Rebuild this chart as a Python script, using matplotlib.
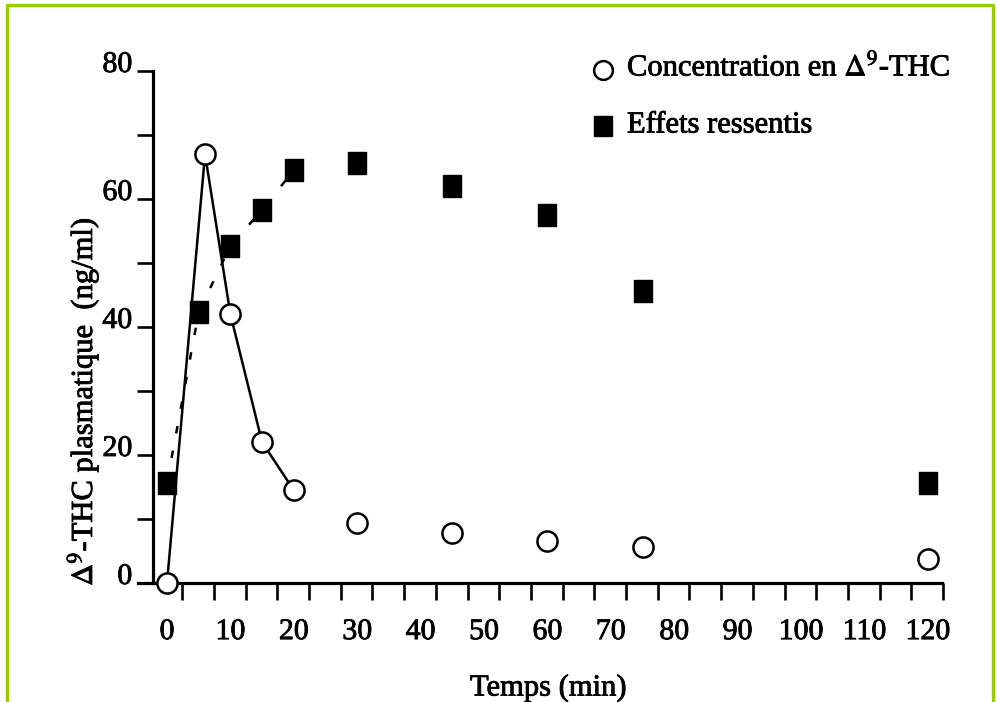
import matplotlib
matplotlib.use('Agg')
import matplotlib.pyplot as plt
import numpy as np
from matplotlib.path import Path
from matplotlib.lines import Line2D
import matplotlib.transforms as mtrans
import matplotlib.patheffects as pe

plt.rcParams['font.family'] = ['Liberation Serif', 'DejaVu Serif']
plt.rcParams['mathtext.fontset'] = 'stix'

# ---------------- data ----------------
time_conc = [0, 6, 10, 15, 20, 30, 45, 60, 75, 120]
conc = [0, 67, 42, 22, 14.5, 9.3, 7.8, 6.6, 5.6, 3.7]
time_eff = [0, 5, 10, 15, 20, 30, 45, 60, 75, 120]
effects = [15.7, 42.3, 52.7, 58.3, 64.5, 65.6, 62.0, 57.5, 45.6, 15.6]
n_joined = 5  # the first points of each series are joined
xtick_values = list(range(0, 121, 10))
ytick_values = [0, 20, 40, 60, 80]
yminor_values = [10, 30, 50, 70]
legend_labels = [r'Concentration en $\Delta^{9}$-THC', 'Effets ressentis']
ylabel = r'$\Delta^{9}$-THC plasmatique  (ng/ml)'
xlabel = 'Temps (min)'

# ---------------- figure ----------------
W, H = 998, 702
fig = plt.figure(figsize=(W / 100, H / 100), dpi=100)
thick = [pe.withStroke(linewidth=0.6, foreground='black')]


def fx(px):
    return px / W


def fy(py):
    return 1 - py / H


x0_px, xscale = 167.0, 6.34
xmin, xmax = -4.6, 125
ax_left = x0_px + xmin * xscale
ax_right = x0_px + xmax * xscale
ax = fig.add_axes([fx(ax_left), fy(583), (ax_right - ax_left) / W, (583 - 71) / H])
ax.set_xlim(xmin, xmax)
ax.set_ylim(0, 80)
ax.patch.set_alpha(0)

for s in ['top', 'right']:
    ax.spines[s].set_visible(False)
ax.spines['left'].set_position(('data', -2.2))
ax.spines['left'].set_bounds(0, 80)
ax.spines['bottom'].set_bounds(-4.6, 122.2)
ax.spines['left'].set_linewidth(2.3)
ax.spines['bottom'].set_linewidth(2.3)

ax.set_yticks(ytick_values)
ax.set_yticks(yminor_values, minor=True)
ax.set_yticklabels([str(v) for v in ytick_values])
ax.tick_params(axis='y', which='both', direction='out', length=11.5, width=1.9,
               labelsize=21.5, pad=3.5)
ax.set_xticks(xtick_values)
ax.set_xticklabels([str(v) for v in xtick_values])
ax.tick_params(axis='x', which='major', length=0, pad=26, labelsize=21.5)
ax.set_xticks(np.arange(2.4, 123, 5), minor=True)
ax.tick_params(axis='x', which='minor', direction='out', length=12, width=1.9)

offset = mtrans.ScaledTranslation(0, 9 / 100, fig.dpi_scale_trans)
for lab in ax.get_yticklabels():
    lab.set_transform(lab.get_transform() + offset)
    lab.set_path_effects(thick)
for lab in ax.get_xticklabels():
    lab.set_path_effects(thick)

# rectangle marker (slightly taller than wide)
sq = Path([(-0.41, -0.5), (0.41, -0.5), (0.41, 0.5), (-0.41, 0.5), (-0.41, -0.5)],
          [Path.MOVETO, Path.LINETO, Path.LINETO, Path.LINETO, Path.CLOSEPOLY])

ax.plot(time_conc[:n_joined], conc[:n_joined], color='black', lw=1.8, zorder=3,
        clip_on=False)
ax.plot(time_eff[:n_joined], effects[:n_joined], color='black', lw=1.8,
        ls=(0, (3, 7)), zorder=2, clip_on=False)
ax.plot(time_eff, effects, ls='none', marker=sq, ms=16.5, color='black', zorder=4,
        clip_on=False)
ax.plot(time_conc, conc, ls='none', marker='o', ms=14.5, mfc='white', mec='black',
        mew=1.8, zorder=5, clip_on=False)

# legend (drawn in figure pixel positions)
fig.add_artist(Line2D([fx(603)], [fy(70)], marker='o', ms=13.5, mfc='white', mec='black',
                      mew=1.8, ls='none', transform=fig.transFigure))
fig.add_artist(Line2D([fx(603)], [fy(126)], marker=sq, ms=15, color='black',
                      ls='none', transform=fig.transFigure))
fig.text(fx(627), fy(68), legend_labels[0], ha='left', va='center', size=22,
         path_effects=thick)
fig.text(fx(627), fy(125), legend_labels[1], ha='left', va='center', size=22,
         path_effects=thick)

# axis titles
fig.text(fx(83), fy(402), ylabel, rotation=90, ha='center', va='center', size=22,
         path_effects=thick)
fig.text(fx(548), fy(688), xlabel, ha='center', va='center', size=22,
         path_effects=thick)

# green frame
fig.add_artist(Line2D([fx(7), fx(7), fx(993), fx(993)], [fy(720), fy(5), fy(5), fy(720)],
                      color='#99cc00', lw=2.4, transform=fig.transFigure))

fig.savefig('out.png', dpi=100)
